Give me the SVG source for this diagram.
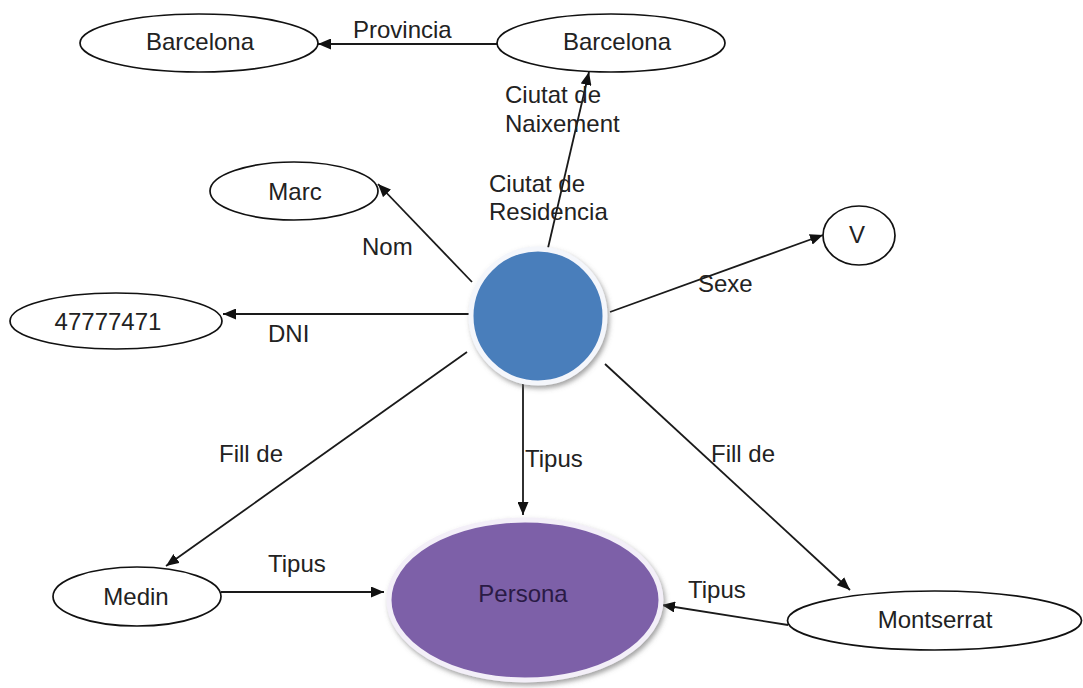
<svg xmlns="http://www.w3.org/2000/svg" width="1083" height="688" viewBox="0 0 1083 688">
<style>
  text { font-family: "Liberation Sans", Arial, sans-serif; font-size: 24px; fill: #222; }
  .c { text-anchor: middle; }
  .node { fill: #fff; stroke: #111; stroke-width: 1.7; }
  .edge { stroke: #1a1a1a; stroke-width: 1.8; fill: none; marker-end: url(#arr); }
</style>
<defs>
  <marker id="arr" viewBox="0 0 13 11" refX="13" refY="5.5" markerWidth="13" markerHeight="11" markerUnits="userSpaceOnUse" orient="auto">
    <path d="M0,0 L13,5.5 L0,11 Z" fill="#111"/>
  </marker>
  <filter id="sh" x="-20%" y="-20%" width="140%" height="140%">
    <feDropShadow dx="2" dy="3" stdDeviation="2.5" flood-color="#666" flood-opacity="0.6"/>
  </filter>
</defs>
<rect width="1083" height="688" fill="#fff"/>

<g id="connectors">
  <line class="edge" x1="497" y1="44" x2="318" y2="44"/>
  <line class="edge" x1="548" y1="248" x2="589" y2="72"/>
  <line class="edge" x1="472" y1="282" x2="378" y2="184"/>
  <line class="edge" x1="470" y1="314" x2="223" y2="314"/>
  <line class="edge" x1="610" y1="312" x2="823" y2="235"/>
  <line class="edge" x1="467" y1="352" x2="166" y2="566"/>
  <line class="edge" x1="523" y1="381" x2="523" y2="515"/>
  <line class="edge" x1="605" y1="364" x2="850" y2="590"/>
  <line class="edge" x1="221" y1="592" x2="384" y2="592"/>
  <line class="edge" x1="788" y1="625" x2="662" y2="605"/>
  <text x="353" y="38">Provincia</text>
  <text x="505" y="103">Ciutat de</text>
  <text x="505" y="132">Naixement</text>
  <text x="489" y="192">Ciutat de</text>
  <text x="489" y="220">Residencia</text>
  <text x="362" y="255">Nom</text>
  <text x="268" y="342">DNI</text>
  <text x="698" y="292">Sexe</text>
  <text x="219" y="462">Fill de</text>
  <text x="525" y="467">Tipus</text>
  <text x="711" y="462">Fill de</text>
  <text x="268" y="572">Tipus</text>
  <text x="688" y="598">Tipus</text>
</g>

<g id="n-barcelona-prov">
  <ellipse class="node" cx="199" cy="43" rx="119" ry="29"/>
  <text class="c" x="200" y="50">Barcelona</text>
</g>
<g id="n-barcelona-city">
  <ellipse class="node" cx="611" cy="43" rx="114" ry="29"/>
  <text class="c" x="617" y="50">Barcelona</text>
</g>
<g id="n-marc">
  <ellipse class="node" cx="294" cy="191" rx="84" ry="29"/>
  <text class="c" x="295" y="200">Marc</text>
</g>
<g id="n-dni">
  <ellipse class="node" cx="116" cy="321" rx="106" ry="28"/>
  <text class="c" x="108" y="330">47777471</text>
</g>
<g id="n-v">
  <ellipse class="node" cx="859" cy="235.5" rx="36" ry="29.5"/>
  <text class="c" x="857" y="243">V</text>
</g>
<g id="n-center">
  <circle cx="538" cy="316" r="67" fill="#4a7ebb" stroke="#f4f6fb" stroke-width="5" filter="url(#sh)"/>
</g>
<g id="n-medin">
  <ellipse class="node" cx="137" cy="596.5" rx="84" ry="29.5"/>
  <text class="c" x="136" y="605">Medin</text>
</g>
<g id="n-persona">
  <ellipse cx="525" cy="600" rx="136" ry="80" fill="#7d60a8" stroke="#f3eff8" stroke-width="5" filter="url(#sh)"/>
  <text class="c" x="523" y="602" style="fill:#2a1a45">Persona</text>
</g>
<g id="n-montserrat">
  <ellipse class="node" cx="934.5" cy="620.5" rx="147" ry="29.5"/>
  <text class="c" x="935" y="628">Montserrat</text>
</g>
</svg>
